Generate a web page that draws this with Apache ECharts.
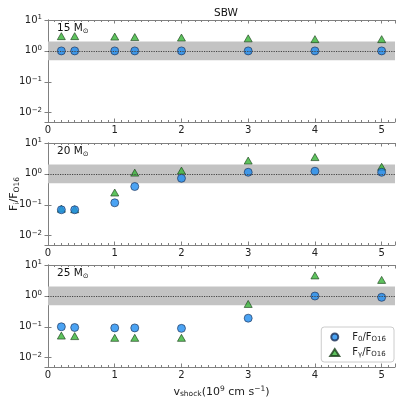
<!DOCTYPE html>
<html>
<head>
<meta charset="utf-8">
<script src="https://cdn.jsdelivr.net/npm/echarts@6/dist/echarts.min.js"></script>
<style>
  html, body { margin: 0; padding: 0; background: #fff; }
  #chart { width: 399px; height: 399px; }
</style>
</head>
<body>
<div id="chart"></div>
<script>
const vShock = [0.2, 0.4, 1, 1.3, 2, 3, 4, 5];

const f0_15 = [1.0, 1.0, 1.0, 1.0, 1.0, 1.0, 1.0, 1.0];
const fg_15 = [3.0, 3.0, 2.9, 2.8, 2.7, 2.55, 2.4, 2.4];

const f0_20 = [0.069, 0.069, 0.116, 0.39, 0.72, 1.13, 1.22, 1.13];
const fg_20 = [0.075, 0.072, 0.25, 1.1, 1.28, 2.7, 3.5, 1.7];

const f0_25 = [0.1, 0.095, 0.092, 0.092, 0.089, 0.19, 0.99, 0.9];
const fg_25 = [0.052, 0.05, 0.044, 0.044, 0.044, 0.55, 4.6, 3.3];

const panelLabels = ['15', '20', '25'];
const bandLow = 0.5, bandHigh = 2;

const font = 'DejaVu Sans';
const axisGray = '#808080';
const blue = '#1e8cf0';
const green = '#36b436';

const grids = [
  { left: 48, top: 20, width: 347, height: 102, outerBoundsMode: 'none' },
  { left: 48, top: 143, width: 347, height: 102, outerBoundsMode: 'none' },
  { left: 48, top: 265, width: 347, height: 102, outerBoundsMode: 'none' }
];

const supRich = {
  b: { fontSize: 10, fontFamily: font, color: '#222' },
  s: { fontSize: 7, fontFamily: font, color: '#222', padding: [0, 0, 6, 0] }
};

const xAxes = [], yAxes = [], series = [];
const pairs = [[f0_15, fg_15], [f0_20, fg_20], [f0_25, fg_25]];

grids.forEach((g, i) => {
  // bottom x axis
  xAxes.push({
    type: 'value', gridIndex: i, min: 0, max: 5.2, interval: 1,
    axisLine: { lineStyle: { color: axisGray } },
    axisTick: { inside: true, length: 3.5, lineStyle: { color: axisGray } },
    minorTick: { show: true, splitNumber: 10, length: 2, lineStyle: { color: axisGray } },
    splitLine: { show: false },
    axisLabel: {
      margin: 3, fontSize: 10, fontFamily: font, color: '#222',
      formatter: v => Number.isInteger(v) ? String(v) : ''
    },
    name: i === 2 ? '{b|v}{sub|shock}{b|(10}{sup|9}{b| cm s}{sup|−1}{b|)}' : '',
    nameLocation: 'middle', nameGap: 18, nameMoveOverlap: false,
    nameTextStyle: {
      rich: {
        b: { fontSize: 11, fontFamily: font, color: '#222' },
        sub: { fontSize: 7.5, fontFamily: font, color: '#222', padding: [5, 0, 0, 0] },
        sup: { fontSize: 7.5, fontFamily: font, color: '#222', padding: [0, 0, 6, 0] }
      }
    }
  });
  // top x axis (ticks only)
  xAxes.push({
    type: 'value', gridIndex: i, min: 0, max: 5.2, interval: 1, position: 'top',
    axisLine: { lineStyle: { color: axisGray } },
    axisTick: { inside: true, length: 3.5, lineStyle: { color: axisGray } },
    minorTick: { show: true, splitNumber: 10, length: 2, lineStyle: { color: axisGray } },
    splitLine: { show: false },
    axisLabel: { show: false }
  });
  // left y axis
  yAxes.push({
    type: 'log', logBase: 10, gridIndex: i, min: 0.005, max: 10,
    axisLine: { show: true, lineStyle: { color: axisGray } },
    axisTick: { inside: true, length: 3.5, lineStyle: { color: axisGray } },
    splitLine: { show: false },
    axisLabel: {
      margin: 6,
      formatter: v => {
        const e = Math.log10(v);
        if (Math.abs(e - Math.round(e)) > 1e-6) return '';
        const r = Math.round(e);
        return '{b|10}{s|' + (r < 0 ? '−' + (-r) : r) + '}';
      },
      rich: supRich
    },
    name: i === 1 ? '{b|F}{sub|i}{b|/F}{sub|O16}' : '',
    nameLocation: 'middle', nameGap: 27, nameMoveOverlap: false,
    nameTextStyle: {
      rich: {
        b: { fontSize: 11, fontFamily: font, color: '#222' },
        sub: { fontSize: 7.5, fontFamily: font, color: '#222', padding: [5, 0, 0, 0] }
      }
    }
  });
  // right y axis (ticks only)
  yAxes.push({
    type: 'log', logBase: 10, gridIndex: i, min: 0.005, max: 10, position: 'right',
    axisLine: { show: true, lineStyle: { color: axisGray } },
    axisTick: { inside: true, length: 3.5, lineStyle: { color: axisGray } },
    splitLine: { show: false },
    axisLabel: { show: false }
  });

  const [f0, fg] = pairs[i];
  series.push({
    name: 'F0', type: 'scatter', xAxisIndex: i * 2, yAxisIndex: i * 2,
    data: vShock.map((x, k) => [x, f0[k]]),
    symbol: 'circle', symbolSize: 8,
    itemStyle: { color: blue, borderColor: '#1b2d52', borderWidth: 0.8 },
    z: 4,
    markArea: {
      silent: true,
      itemStyle: { color: '#c3c3c3' },
      data: [[{ yAxis: bandLow }, { yAxis: bandHigh }]]
    },
    markLine: {
      silent: true, symbol: 'none',
      label: { show: false },
      lineStyle: { color: '#444', type: [1.2, 1.2], width: 1 },
      data: [{ yAxis: 1 }]
    }
  });
  series.push({
    name: 'Fg', type: 'scatter', xAxisIndex: i * 2, yAxisIndex: i * 2,
    data: vShock.map((x, k) => [x, fg[k]]),
    symbol: 'triangle', symbolSize: [8, 7],
    itemStyle: { color: green, borderColor: '#1a3d1a', borderWidth: 0.8 },
    z: 3
  });
});

const panelText = panelLabels.map((m, i) => ({
  type: 'text', left: 57, top: grids[i].top + 3,
  style: {
    text: '{b|' + m + ' M}{sub|⊙}',
    rich: {
      b: { fontSize: 10.5, fontFamily: font, fill: '#111' },
      sub: { fontSize: 7, fontFamily: font, fill: '#111', padding: [5, 0, 0, 0] }
    }
  }
}));

const chart = echarts.init(document.getElementById('chart'));
chart.setOption({
  animation: false,
  backgroundColor: '#fff',
  title: {
    text: 'SBW', left: 221, top: 3, textAlign: 'center',
    textStyle: { fontSize: 10.5, fontWeight: 'normal', fontFamily: font, color: '#111' }
  },
  grid: grids,
  xAxis: xAxes,
  yAxis: yAxes,
  legend: {
    data: ['F0', 'Fg'],
    orient: 'vertical', right: 5, top: 327,
    backgroundColor: '#fff',
    borderColor: '#cccccc', borderWidth: 1, borderRadius: 3,
    padding: [5, 8, 4, 8], itemGap: 5,
    itemWidth: 9, itemHeight: 7,
    formatter: n => n === 'F0' ? '{b|F}{sub|0}{b|/F}{sub|O16}' : '{b|F}{sub|γ}{b|/F}{sub|O16}',
    textStyle: {
      padding: [0, 0, 0, 8],
      rich: {
        b: { fontSize: 10, fontFamily: font, color: '#222' },
        sub: { fontSize: 7, fontFamily: font, color: '#222', padding: [4, 0, 0, 0] }
      }
    }
  },
  graphic: panelText,
  series: series
});
</script>
</body>
</html>
